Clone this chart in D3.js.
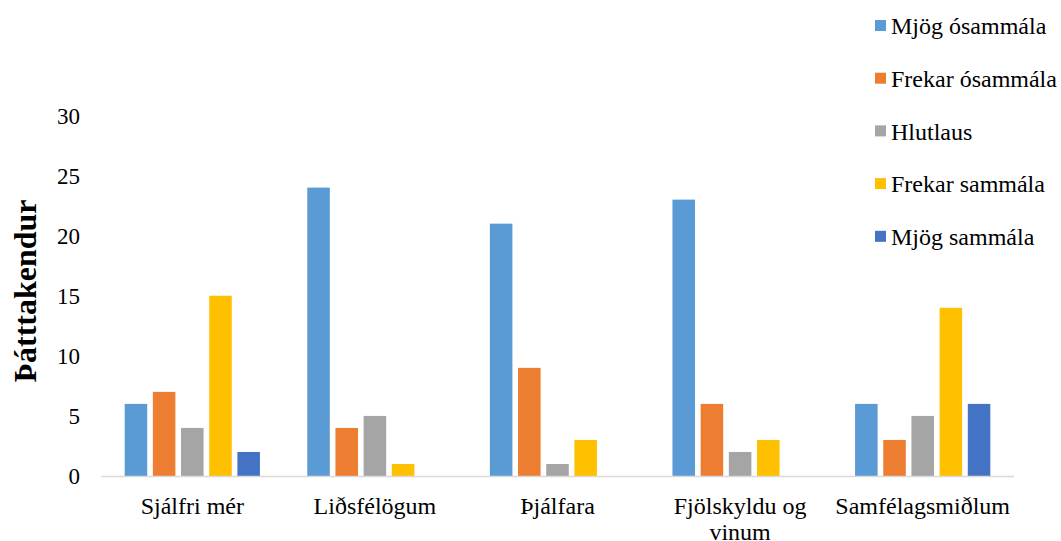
<!DOCTYPE html>
<html>
<head>
<meta charset="utf-8">
<script src="https://cdn.jsdelivr.net/npm/d3@7"></script>
<style>
  html, body { margin: 0; padding: 0; background: #fff; }
  svg { display: block; font-family: "Liberation Serif", "Times New Roman", serif; }
</style>
</head>
<body>
<svg id="chart" width="1061" height="541"></svg>
<script>
// Survey responses per source, grouped by level of agreement
const categories = ["Sjálfri mér", "Liðsfélögum", "Þjálfara", "Fjölskyldu og vinum", "Samfélagsmiðlum"];
const seriesNames = ["Mjög ósammála", "Frekar ósammála", "Hlutlaus", "Frekar sammála", "Mjög sammála"];
const mjogOsammala   = [6, 24, 21, 23, 6];
const frekarOsammala = [7, 4, 9, 6, 3];
const hlutlaus       = [4, 5, 1, 2, 5];
const frekarSammala  = [15, 1, 3, 3, 14];
const mjogSammala    = [2, 0, 0, 0, 6];
const yTicks = [0, 5, 10, 15, 20, 25, 30];
const colors = ["#5B9BD5", "#ED7D31", "#A5A5A5", "#FFC000", "#4472C4"];

const seriesValues = [mjogOsammala, frekarOsammala, hlutlaus, frekarSammala, mjogSammala];
const rows = categories.map((c, i) => ({
  category: c,
  values: seriesNames.map((s, j) => ({ series: s, value: seriesValues[j][i], color: colors[j] }))
}));

const svg = d3.select("#chart");
const plot = { left: 101, right: 1014, top: 115.5, bottom: 476 };
const serif = "'Liberation Serif', 'Times New Roman', serif";

const x0 = d3.scaleBand().domain(categories).range([plot.left, plot.right]).paddingInner(0).paddingOuter(0);
const x1 = d3.scaleBand().domain(seriesNames).range([0, x0.bandwidth()]).paddingInner(0.2).paddingOuter(0.84);
const y = d3.scaleLinear().domain([0, 30]).range([plot.bottom, plot.top]);

// Bars
const groups = svg.append("g").selectAll("g").data(rows).join("g")
  .attr("transform", d => `translate(${x0(d.category)},0)`);
groups.selectAll("rect").data(d => d.values.filter(v => v.value > 0)).join("rect")
  .attr("x", d => x1(d.series))
  .attr("width", x1.bandwidth())
  .attr("y", d => y(d.value))
  .attr("height", d => y(0) - y(d.value))
  .attr("fill", d => d.color);

// Baseline
svg.append("line")
  .attr("x1", plot.left).attr("x2", plot.right)
  .attr("y1", y(0) + 0.5).attr("y2", y(0) + 0.5)
  .attr("stroke", "#D9D9D9").attr("stroke-width", 1.5);

// Y axis labels
const yAxis = svg.append("g").attr("transform", `translate(${plot.left - 21},0)`)
  .call(d3.axisLeft(y).tickValues(yTicks).tickSize(0).tickPadding(0));
yAxis.attr("font-family", serif);
yAxis.select(".domain").remove();
yAxis.selectAll("text")
  .attr("font-size", 23).attr("fill", "#000").attr("dy", "0.34em");

// Category labels (wrapped when wider than the band)
const xAxis = svg.append("g").attr("transform", `translate(0,${plot.bottom})`)
  .call(d3.axisBottom(x0).tickSize(0).tickPadding(0));
xAxis.attr("font-family", serif);
xAxis.select(".domain").remove();
xAxis.selectAll("text").each(function(d) {
  const t = d3.select(this);
  t.text(null).attr("y", 0).attr("dy", null)
    .attr("font-size", 24).attr("fill", "#000");
  const lines = d === "Fjölskyldu og vinum" ? ["Fjölskyldu og", "vinum"] : [d];
  lines.forEach((ln, i) => {
    t.append("tspan").attr("x", 0).attr("y", 38 + i * 26).text(ln);
  });
});

// Y axis title
svg.append("text")
  .attr("transform", `translate(36,291) rotate(-90)`)
  .attr("text-anchor", "middle")
  .attr("font-size", 32).attr("font-weight", "bold").attr("fill", "#000")
  .text("Þátttakendur");

// Legend
const legend = svg.append("g").selectAll("g").data(seriesNames).join("g")
  .attr("transform", (d, i) => `translate(875,${26 + i * 52.7})`);
legend.append("rect").attr("x", 0).attr("y", -6).attr("width", 11).attr("height", 11)
  .attr("fill", (d, i) => colors[i]);
legend.append("text").attr("x", 16).attr("y", 0).attr("dy", "0.34em")
  .attr("font-size", 24).attr("fill", "#000").text(d => d);
</script>
</body>
</html>
